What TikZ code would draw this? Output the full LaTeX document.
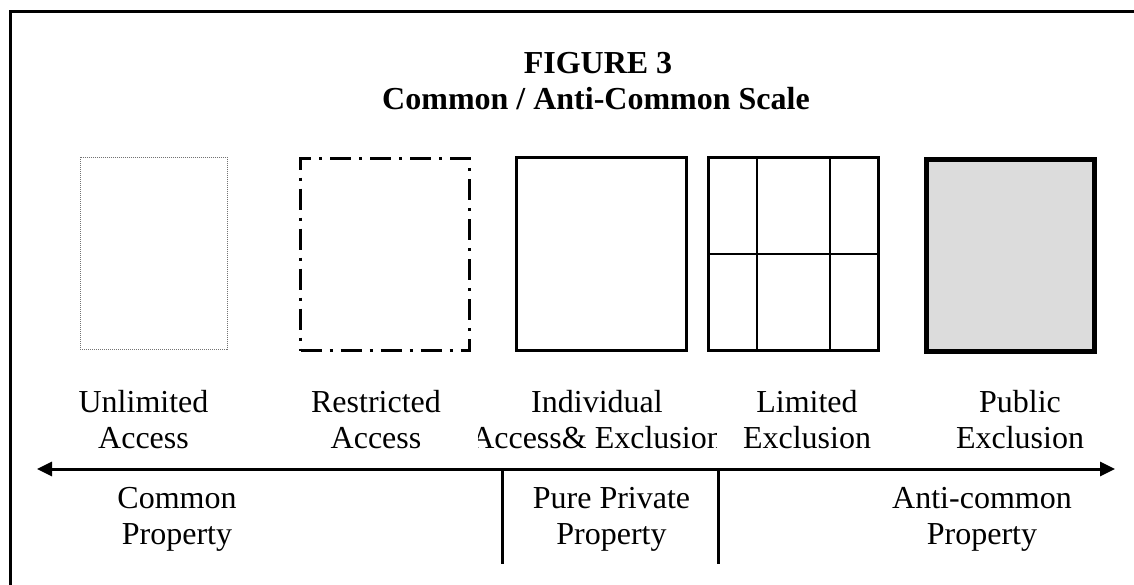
\documentclass[tikz,border=0pt]{standalone}
\usepackage{fontspec}
\setmainfont{Liberation Serif}
\usetikzlibrary{arrows.meta,calc}
\definecolor{shade}{RGB}{220,220,220}
\newcommand{\lblpair}[2]{\begin{tabular}[t]{@{}c@{}}#1\\#2\end{tabular}}
\tikzset{
  lbl/.style={anchor=base, inner sep=0pt, font=\fontsize{32}{36.5}\selectfont},
  ttl/.style={anchor=base, inner sep=0pt, font=\fontsize{32}{36}\selectfont\bfseries},
  cell/.style={anchor=north west, inner sep=0pt, minimum width=170pt, minimum height=193pt},
  thick box/.style={cell, draw, line width=3pt},
  axis/.style={line width=3pt, {Triangle[length=15pt,width=14pt]}-{Triangle[length=15pt,width=14pt]}},
  divider/.style={line width=3pt},
}
\begin{document}
\begin{tikzpicture}[x=1pt, y=-1pt]
  \clip (0,0) rectangle (1134,584);
  \useasboundingbox (0,0) rectangle (1134,584);
  % outer frame (continues past the page edge)
  \draw[line width=3pt] (10,11) rectangle (1250,700);

  % title
  \node[ttl] (t1) at (598,73) {FIGURE 3};
  \node[ttl] (t2) at (596,109) {Common / Anti-Common Scale};

  % the five property regimes
  \node[cell, draw=black!55, line width=0.9pt, dash pattern=on 1pt off 1pt,
        minimum width=147pt, minimum height=192pt] (b1) at (80,157) {};
  \node[cell, draw, line width=3pt, dash pattern=on 21pt off 8pt on 3pt off 8pt,
        minimum width=169pt, minimum height=192pt] (b2) at (299,157) {};
  \node[thick box] (b3) at (515,156) {};
  \node[thick box] (b4) at (707,156) {};
  \draw[line width=1.6pt] ($(b4.north west)!0.288!(b4.north east)$) -- ($(b4.south west)!0.288!(b4.south east)$);
  \draw[line width=1.6pt] ($(b4.north west)!0.712!(b4.north east)$) -- ($(b4.south west)!0.712!(b4.south east)$);
  \draw[line width=1.6pt] (b4.west) -- (b4.east);
  \node[cell, draw, fill=shade, line width=4.5pt,
        minimum width=168pt, minimum height=192pt] (b5) at (924,157) {};

  % labels above the axis
  \node[lbl] (l1) at (143.5,412) {\lblpair{Unlimited}{Access}};
  \node[lbl] (l2) at (376,412) {\lblpair{Restricted}{Access}};
  \begin{scope}
    \clip (478,370) rectangle (716,462);
    \node[lbl] (l3) at (597,412) {\lblpair{Individual}{Access\& Exclusion}};
  \end{scope}
  \node[lbl] (l4) at (807,412) {\lblpair{Limited}{Exclusion}};
  \node[lbl] (l5) at (1020,412) {\lblpair{Public}{Exclusion}};

  % scale axis
  \coordinate (aL) at (37,469);
  \coordinate (aR) at (1115,469);
  \draw[axis] (aL) -- (aR);
  \coordinate (d1) at (502,469);
  \coordinate (d1e) at (502,564);
  \coordinate (d2) at (718,469);
  \coordinate (d2e) at (718,564);
  \draw[divider] (d1) -- (d1e);
  \draw[divider] (d2) -- (d2e);

  % labels below the axis
  \node[lbl] (p1) at (177,508) {\lblpair{Common}{Property}};
  \node[lbl] (p2) at (611.5,508) {\lblpair{Pure Private}{Property}};
  \node[lbl] (p3) at (982,508) {\lblpair{Anti-common}{Property}};
\end{tikzpicture}
\end{document}
